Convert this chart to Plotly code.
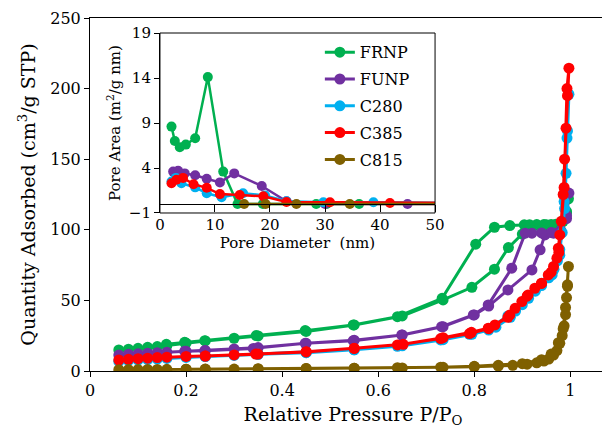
import plotly.graph_objects as go

# ---- isotherm data (relative pressure vs quantity adsorbed) ----
names = ["FRNP", "FUNP", "C280", "C385", "C815"]
colors = ["#00B050", "#7030A0", "#00B0F0", "#FF0000", "#7F6000"]

frnp_ads_x = [0.06, 0.08, 0.10, 0.12, 0.14, 0.16, 0.20, 0.24, 0.30, 0.35, 0.45, 0.55, 0.65, 0.735, 0.795, 0.842, 0.871, 0.90, 0.93, 0.95, 0.97, 0.985, 0.992, 0.996]
frnp_ads_y = [14.9, 15.4, 16.1, 16.8, 17.3, 18.0, 19.8, 21.3, 23.2, 24.8, 28.0, 32.6, 39.0, 50.3, 59.3, 72.1, 87.4, 97.0, 103.3, 103.6, 104.0, 106.0, 112.0, 122.0]
frnp_des_x = [0.992, 0.98, 0.96, 0.945, 0.93, 0.915, 0.904, 0.874, 0.842, 0.803, 0.733, 0.64, 0.548, 0.448, 0.346, 0.239, 0.197, 0.159]
frnp_des_y = [113.0, 104.5, 103.8, 103.7, 103.7, 103.6, 103.5, 103.0, 101.8, 89.8, 51.5, 38.5, 32.6, 28.6, 25.1, 21.5, 20.3, 18.9]

funp_ads_x = [0.06, 0.08, 0.10, 0.12, 0.14, 0.16, 0.20, 0.24, 0.30, 0.35, 0.45, 0.55, 0.65, 0.735, 0.80, 0.83, 0.87, 0.92, 0.937, 0.947, 0.965, 0.98, 0.992, 0.997]
funp_ads_y = [11.3, 11.8, 12.2, 12.6, 13.0, 13.3, 14.0, 14.6, 15.6, 16.6, 19.6, 21.8, 25.5, 31.4, 39.7, 46.0, 57.4, 71.6, 85.8, 96.4, 97.6, 99.5, 108.0, 126.0]
funp_des_x = [0.992, 0.98, 0.96, 0.94, 0.92, 0.906, 0.878, 0.829, 0.798, 0.732, 0.649, 0.548, 0.448, 0.34, 0.239, 0.197]
funp_des_y = [110.0, 99.0, 98.0, 97.8, 97.6, 97.6, 72.8, 46.8, 39.7, 31.4, 25.5, 21.5, 19.6, 16.0, 14.4, 13.9]

c280_ads_x = [0.06, 0.08, 0.10, 0.12, 0.14, 0.16, 0.20, 0.24, 0.30, 0.35, 0.45, 0.55, 0.65, 0.735, 0.795, 0.83, 0.845, 0.875, 0.886, 0.90, 0.913, 0.927, 0.94, 0.955, 0.966, 0.973, 0.978, 0.983, 0.988, 0.991, 0.994, 0.997]
c280_ads_y = [6.8, 7.3, 7.7, 8.1, 8.5, 8.9, 9.6, 10.2, 11.0, 11.8, 13.0, 15.0, 17.8, 22.2, 26.0, 29.0, 31.0, 38.0, 42.5, 47.0, 51.5, 56.5, 60.5, 66.0, 72.0, 78.0, 86.0, 98.0, 115.0, 140.0, 170.0, 196.0]
c280_des_x = [0.993, 0.987, 0.978, 0.962, 0.94, 0.91, 0.87, 0.83, 0.79, 0.73, 0.64, 0.55, 0.45, 0.35, 0.24]
c280_des_y = [165.0, 120.0, 82.0, 68.0, 61.0, 52.0, 39.0, 30.0, 26.0, 22.0, 17.5, 15.0, 13.0, 11.8, 10.2]

c385_ads_x = [0.06, 0.08, 0.10, 0.12, 0.14, 0.16, 0.20, 0.24, 0.30, 0.35, 0.45, 0.55, 0.652, 0.735, 0.794, 0.829, 0.843, 0.874, 0.885, 0.899, 0.912, 0.926, 0.94, 0.954, 0.965, 0.972, 0.975, 0.978, 0.981, 0.985, 0.988, 0.991, 0.994, 0.997]
c385_ads_y = [7.8, 8.3, 8.7, 9.1, 9.5, 9.8, 10.3, 10.6, 11.4, 12.0, 13.7, 16.1, 18.9, 23.6, 27.4, 30.3, 32.6, 39.7, 44.4, 49.2, 53.9, 58.6, 62.2, 68.0, 74.0, 79.9, 87.0, 96.4, 106.0, 125.0, 150.0, 172.0, 195.0, 214.5]
c385_des_x = [0.993, 0.987, 0.976, 0.96, 0.94, 0.91, 0.87, 0.83, 0.79, 0.73, 0.64, 0.55, 0.45, 0.345, 0.24]
c385_des_y = [200.0, 130.0, 84.0, 70.0, 62.0, 53.0, 38.0, 30.0, 26.5, 23.0, 18.5, 16.0, 13.5, 12.0, 10.6]

c815_ads_x = [0.06, 0.08, 0.10, 0.12, 0.14, 0.16, 0.20, 0.24, 0.30, 0.35, 0.45, 0.55, 0.65, 0.735, 0.80, 0.85, 0.88, 0.91, 0.93, 0.945, 0.955, 0.965, 0.972, 0.978, 0.983, 0.987, 0.99, 0.992, 0.994, 0.996]
c815_ads_y = [0.9, 1.0, 1.0, 1.1, 1.1, 1.2, 1.3, 1.3, 1.4, 1.5, 1.7, 1.9, 2.2, 2.6, 3.0, 3.5, 4.0, 4.8, 5.8, 7.0, 8.5, 11.3, 14.5, 19.6, 25.0, 32.0, 40.0, 52.0, 61.0, 74.0]
c815_des_x = [0.994, 0.99, 0.985, 0.975, 0.96, 0.94, 0.90, 0.85, 0.80, 0.73, 0.64, 0.55, 0.45, 0.35, 0.24, 0.20]
c815_des_y = [60.0, 45.0, 30.0, 20.0, 12.0, 8.0, 5.2, 4.0, 3.3, 2.7, 2.3, 2.0, 1.8, 1.6, 1.4, 1.3]

# ---- pore size distribution (inset) ----
frnp_pd = [2.1, 2.7, 3.6, 4.7, 6.4, 8.7, 11.5, 14.1, 18.7, 28.4, 30.3, 36.2]
frnp_pa = [8.6, 7.0, 6.3, 6.6, 7.3, 14.1, 3.6, 0.0, 0.0, 0.0, 0.0, 0.0]
funp_pd = [2.4, 3.3, 4.5, 6.4, 8.5, 10.9, 13.5, 18.5, 23.0, 30.0, 45.0, 58.0]
funp_pa = [3.6, 3.7, 3.4, 3.2, 2.8, 2.4, 3.4, 2.0, 0.3, 0.0, 0.0, 0.0]
c280_pd = [2.1, 2.9, 3.9, 6.4, 8.5, 11.2, 15.1, 19.1, 23.0, 29.7, 38.8, 58.0]
c280_pa = [2.5, 2.9, 2.3, 1.85, 1.2, 0.75, 1.2, 0.95, 0.3, 0.2, 0.2, 0.1]
c385_pd = [2.1, 3.0, 4.2, 6.1, 8.5, 10.9, 14.5, 18.8, 23.0, 30.9, 41.8, 58.0]
c385_pa = [2.3, 2.7, 2.9, 2.2, 1.8, 1.1, 1.0, 0.85, 0.22, 0.19, 0.11, 0.1]
c815_pd = [15.3, 19.2, 24.8, 34.5, 58.0]
c815_pa = [0.0, 0.0, 0.0, 0.0, 0.0]

iso_x = [frnp_ads_x + frnp_des_x, funp_ads_x + funp_des_x, c280_ads_x + c280_des_x,
         c385_ads_x + c385_des_x, c815_ads_x + c815_des_x]
iso_y = [frnp_ads_y + frnp_des_y, funp_ads_y + funp_des_y, c280_ads_y + c280_des_y,
         c385_ads_y + c385_des_y, c815_ads_y + c815_des_y]
psd_x = [frnp_pd, funp_pd, c280_pd, c385_pd, c815_pd]
psd_y = [frnp_pa, funp_pa, c280_pa, c385_pa, c815_pa]

FONT = "DejaVu Serif"

fig = go.Figure()

for name, color, x, y in zip(names, colors, iso_x, iso_y):
    fig.add_trace(go.Scatter(
        x=x, y=y, mode="lines+markers", name=name, legendgroup=name,
        line=dict(color=color, width=3),
        marker=dict(color=color, size=11),
        xaxis="x", yaxis="y"
    ))

for name, color, x, y in zip(names, colors, psd_x, psd_y):
    fig.add_trace(go.Scatter(
        x=x, y=y, mode="lines+markers", name=name, showlegend=False, legendgroup=name,
        line=dict(color=color, width=2.5),
        marker=dict(color=color, size=10),
        xaxis="x2", yaxis="y2"
    ))

# inset geometry (paper fractions of the main plot area)
inset_x = [0.133, 0.656]
inset_y = [0.4476, 0.9575]
pa_range = [-1, 19]
zero_pos = inset_y[0] + (0 - pa_range[0]) / (pa_range[1] - pa_range[0]) * (inset_y[1] - inset_y[0])

axis_common = dict(showline=True, linecolor="black", linewidth=1, showgrid=False, zeroline=False,
                   automargin=False, ticks="outside", tickcolor="black",
                   tickfont=dict(family=FONT, size=16, color="black"))

fig.update_layout(
    width=610, height=430,
    margin=dict(l=82, r=2, t=10, b=67),
    paper_bgcolor="white", plot_bgcolor="white",
    font=dict(family=FONT, color="black"),
    xaxis=dict(axis_common, range=[0, 1.095], dtick=0.2, tick0=0, ticklen=5, mirror=True,
               title=dict(text="Relative Pressure P/P<sub>O</sub>", font=dict(family=FONT, size=19), standoff=8)),
    yaxis=dict(axis_common, range=[0, 250], dtick=50, ticklen=5, mirror=True,
               title=dict(text="Quantity Adsorbed (cm<sup>3</sup>/g STP)", font=dict(family=FONT, size=19), standoff=9)),
    xaxis2=dict(axis_common, domain=inset_x, range=[0, 50], dtick=10, ticklen=7,
                anchor="free", position=zero_pos, tickfont=dict(family=FONT, size=15, color="black"),
                title=dict(text="Pore Diameter  (nm)", font=dict(family=FONT, size=15), standoff=4)),
    yaxis2=dict(axis_common, domain=inset_y, range=pa_range, tickvals=[-1, 4, 9, 14, 19], ticklen=5,
                anchor="x2", tickfont=dict(family=FONT, size=15, color="black"),
                title=dict(text="Pore Area (m<sup>2</sup>/g nm)", font=dict(family=FONT, size=15), standoff=4)),
    legend=dict(x=0.437, y=0.951, xanchor="left", yanchor="top", bgcolor="rgba(0,0,0,0)",
                font=dict(family=FONT, size=16, color="black"), tracegroupgap=3),
    showlegend=True,
)

# inset frame
fig.add_shape(type="rect", xref="x2 domain", yref="y2 domain", x0=0, x1=1, y0=0, y1=1,
              line=dict(color="black", width=1), layer="above")

fig.write_html("out.html")
